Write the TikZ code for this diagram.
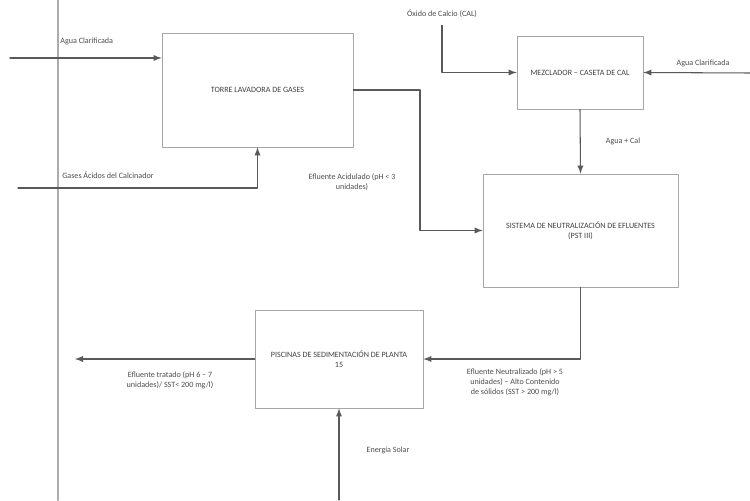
\documentclass[tikz,border=0pt]{standalone}
\usepackage{fontspec}
\setmainfont{Carlito}
\usetikzlibrary{positioning}
\tikzset{
  caja/.style={draw=gray!70,line width=0.45pt,rectangle,inner sep=0pt,align=center,text=black!75},
  flujo/.style={draw=black!65,line width=0.6pt,->},
  rotulo/.style={inner sep=0pt,align=center,text=black!70}
}
\begin{document}
\begin{tikzpicture}[x=0.02cm,y=-0.02cm,>=latex,line cap=round,line join=round,font=\fontsize{4.6}{5.7}\selectfont]
  \useasboundingbox (0,0) rectangle (750,500);
  \draw[line width=1.5pt,gray!65] (58,0) -- (58,500);
  \node[caja,minimum width=3.82cm,minimum height=2.28cm] (torre) at (257.5,90) {TORRE LAVADORA DE GASES};
  \node[caja,minimum width=2.52cm,minimum height=1.46cm] (mezcla) at (580,72.5) {MEZCLADOR -- CASETA DE CAL};
  \node[caja,minimum width=3.9cm,minimum height=2.26cm] (neutra) at (580.5,230.5) {SISTEMA DE NEUTRALIZACIÓN DE EFLUENTES\\(PST III)};
  \node[caja,minimum width=3.36cm,minimum height=1.96cm] (piscina) at (339,359) {PISCINAS DE SEDIMENTACIÓN DE PLANTA\\15};
  \node[rotulo,anchor=west] (aguaizq) at (60,41) {Agua Clarificada};
  \node[rotulo,anchor=west] (gases) at (62,175) {Gases Ácidos del Calcinador};
  \node[rotulo] (acido) at (352,182) {Efluente Acidulado (pH < 3\\unidades)};
  \node[rotulo] (oxido) at (442,14) {Óxido de Calcio (CAL)};
  \node[rotulo] (aguader) at (703,63) {Agua Clarificada};
  \node[rotulo] (aguacal) at (623,141) {Agua + Cal};
  \node[rotulo] (neutral) at (515,382) {Efluente Neutralizado (pH > 5\\unidades) -- Alto Contenido\\de sólidos (SST > 200 mg/l)};
  \node[rotulo] (tratado) at (170,380) {Efluente tratado (pH 6 -- 7\\unidades)/ SST< 200 mg/l)};
  \node[rotulo] (solar) at (388,450) {Energía Solar};
  \coordinate (entraagua) at (10,58);
  \coordinate (entragas) at (18,188);
  \coordinate (codo) at (420,90);
  \coordinate (entrader) at (750,73);
  \coordinate (salida) at (75,359);
  \coordinate (sol) at (339,500);
  \draw[flujo] (entraagua) -- (entraagua -| torre.west);
  \draw[flujo] (entragas) -| (torre.south);
  \draw[flujo] (torre.east) -- (codo) |- (neutra.west);
  \draw[flujo] ([yshift=-4pt]oxido.south) |- (mezcla.west);
  \draw[flujo] (entrader) -- (mezcla.east);
  \draw[flujo] (mezcla.south) -- (neutra.north);
  \draw[flujo] (neutra.south) |- (piscina.east);
  \draw[flujo] (piscina.west) -- (salida);
  \draw[flujo] (sol) -- (piscina.south);
\end{tikzpicture}
\end{document}
